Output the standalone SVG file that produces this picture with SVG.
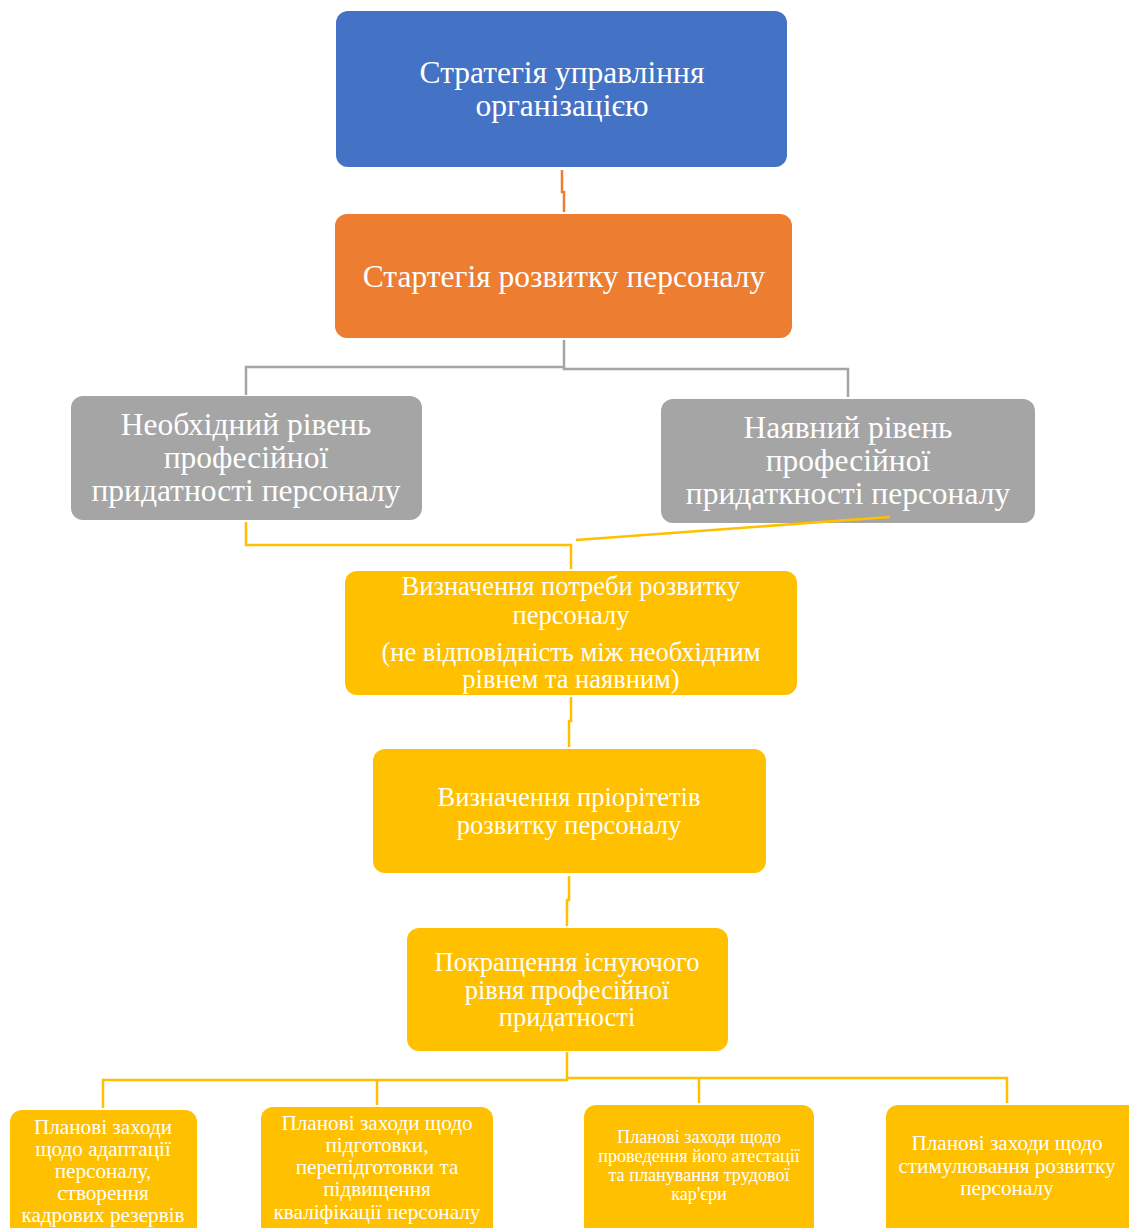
<svg xmlns="http://www.w3.org/2000/svg" width="1129" height="1228" viewBox="0 0 1129 1228">
<style>
text{font-family:"Liberation Serif","Times New Roman",serif;fill:#fff;text-anchor:middle}
.blue{fill:#4472C4}.orange{fill:#ED7D31}.gray{fill:#A5A5A5}.yellow{fill:#FFC000}
.c{fill:none;stroke-width:2.5}
.co{stroke:#ED7D31}.cg{stroke:#A5A5A5}.cy{stroke:#FFC000}
.f28{font-size:31.5px}.f24{font-size:26.5px}.f20{font-size:21.2px}.f16{font-size:18.2px}
</style>
<rect width="1129" height="1228" fill="#fff"/>
<g id="n1"><rect class="blue" x="336" y="11" width="451" height="156" rx="12"/>
<text class="f28" x="562" y="83">Стратегія управління</text>
<text class="f28" x="562" y="116">організацією</text></g>
<g id="n2"><rect class="orange" x="335" y="214" width="457" height="124" rx="12"/>
<text class="f28" x="564" y="287">Стартегія розвитку персоналу</text></g>
<g id="n3"><rect class="gray" x="71" y="396" width="351" height="124" rx="12"/>
<text class="f28" x="246" y="435">Необхідний рівень</text>
<text class="f28" x="246" y="468">професійної</text>
<text class="f28" x="246" y="501">придатності персоналу</text></g>
<g id="n4"><rect class="gray" x="661" y="399" width="374" height="124" rx="12"/>
<text class="f28" x="848" y="438">Наявний рівень</text>
<text class="f28" x="848" y="471">професійної</text>
<text class="f28" x="848" y="504">придаткності персоналу</text></g>
<g id="n5"><rect class="yellow" x="345" y="571" width="452" height="124" rx="12"/>
<text class="f24" x="571" y="595">Визначення потреби розвитку</text>
<text class="f24" x="571" y="624">персоналу</text>
<text class="f24" x="571" y="661">(не відповідність між необхідним</text>
<text class="f24" x="571" y="688">рівнем та наявним)</text></g>
<g id="n6"><rect class="yellow" x="373" y="749" width="393" height="124" rx="12"/>
<text class="f24" x="569" y="806">Визначення пріорітетів</text>
<text class="f24" x="569" y="834">розвитку персоналу</text></g>
<g id="n7"><rect class="yellow" x="407" y="928" width="321" height="123" rx="12"/>
<text class="f24" x="567" y="971">Покращення існуючого</text>
<text class="f24" x="567" y="999">рівня професійної</text>
<text class="f24" x="567" y="1026">придатності</text></g>
<g id="n8"><rect class="yellow" x="10" y="1110" width="187" height="130" rx="12"/>
<text class="f20" x="103" y="1134">Планові заходи</text>
<text class="f20" x="103" y="1156">щодо адаптації</text>
<text class="f20" x="103" y="1178">персоналу,</text>
<text class="f20" x="103" y="1200">створення</text>
<text class="f20" x="103" y="1222">кадрових резервів</text></g>
<g id="n9"><rect class="yellow" x="261" y="1107" width="232" height="133" rx="12"/>
<text class="f20" x="377" y="1130">Планові заходи щодо</text>
<text class="f20" x="377" y="1152">підготовки,</text>
<text class="f20" x="377" y="1174">перепідготовки та</text>
<text class="f20" x="377" y="1196">підвищення</text>
<text class="f20" x="377" y="1219">кваліфікації персоналу</text></g>
<g id="n10"><rect class="yellow" x="584" y="1105" width="230" height="135" rx="12"/>
<text class="f16" x="699" y="1143">Планові заходи щодо</text>
<text class="f16" x="699" y="1162">проведення його атестації</text>
<text class="f16" x="699" y="1181">та планування трудової</text>
<text class="f16" x="699" y="1200">кар'єри</text></g>
<g id="n11"><rect class="yellow" x="886" y="1105" width="255" height="135" rx="12"/>
<text class="f20" x="1007" y="1150">Планові заходи щодо</text>
<text class="f20" x="1007" y="1173">стимулювання розвитку</text>
<text class="f20" x="1007" y="1195">персоналу</text></g>
<g id="connectors">
<path class="c co" d="M562,170 V192 H564 V212"/>
<path class="c cg" d="M564,340 V367 H246 V395"/>
<path class="c cg" d="M564,367 V369 H848 V397"/>
<path class="c cy" d="M246,522 V545 H571 V569"/>
<path class="c cy" d="M890,517 L576,540" stroke-width="3"/>
<path class="c cy" d="M571,697 V721 H569 V747"/>
<path class="c cy" d="M569,876 V900 H567 V926"/>
<path class="c cy" d="M567,1052 V1080 H103 V1108"/>
<path class="c cy" d="M377,1080 V1105"/>
<path class="c cy" d="M567,1078 H1007 V1103"/>
<path class="c cy" d="M699,1078 V1103"/>
</g>
</svg>
